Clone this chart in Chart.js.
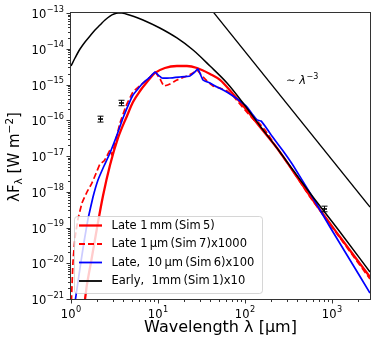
<!DOCTYPE html>
<html><head><meta charset="utf-8">
<script src="https://cdn.jsdelivr.net/npm/chart.js@4.4.0/dist/chart.umd.min.js"></script>
<style>html,body{margin:0;padding:0;background:#fff;}canvas{display:block;}</style>
</head><body>
<canvas id="c" width="374" height="345"></canvas>
<script>
// ---- data (wavelength in micron, lambda*F_lambda in W m^-2) ----
const earlyLambda = [1, 1.112, 1.269, 1.449, 1.653, 1.888, 2.154, 2.46, 2.808, 3.12, 3.47, 3.857, 4.29, 5.30, 6.72, 10.5, 16.5, 25.3, 39.6, 62.1, 94.9, 149, 233, 356, 558, 1236, 2734];
const earlyFlux = [3.29e-15, 5.51e-15, 9.84e-15, 1.55e-14, 2.28e-14, 3.34e-14, 4.62e-14, 6.37e-14, 8.24e-14, 9.38e-14, 1.0e-13, 1.0e-13, 9.38e-14, 7.98e-14, 6.37e-14, 3.80e-14, 2.0e-14, 9.22e-15, 3.29e-15, 1.10e-15, 3.04e-16, 6.9e-17, 1.67e-17, 4.06e-18, 9.23e-19, 7.48e-20, 5.69e-21];

const lateMmLambda = [1.39, 1.45, 1.70, 1.99, 2.33, 2.81, 3.47, 4.40, 5.16, 6.21, 7.47, 9.24, 12.0, 16.5, 21.5, 28.1, 39.6, 51.6, 72.8, 100, 149, 233, 356, 559, 1236, 2734];
const lateMmFlux = [2.5e-22, 1.0e-21, 1.08e-20, 9.68e-20, 7.60e-19, 5.60e-18, 3.19e-17, 1.32e-16, 3.24e-16, 6.57e-16, 1.17e-15, 2.10e-15, 2.90e-15, 3.29e-15, 3.29e-15, 2.90e-15, 1.97e-15, 1.34e-15, 5.42e-16, 2.20e-16, 6.47e-17, 1.67e-17, 3.80e-18, 7.60e-19, 5.42e-20, 4.12e-21];

const lateUmLambda = [1.0, 1.013, 1.054, 1.112, 1.204, 1.338, 1.527, 1.743, 1.99, 2.154, 2.394, 2.593, 2.808, 2.96, 3.205, 3.658, 4.29, 5.16, 6.72, 8.09, 9.24, 10.55, 11.7, 13.7, 16.5, 21.5, 25.3, 28.1, 32.1, 36.6, 42.9, 51.6, 62.1, 72.8, 100, 130, 141, 169.8, 233, 356, 559, 1236, 2734];
const lateUmFlux = [4.9e-22, 1.0e-21, 1.08e-20, 5.08e-20, 1.73e-19, 4.84e-19, 9.84e-19, 1.76e-18, 3.80e-18, 5.97e-18, 7.24e-18, 1.0e-17, 1.47e-17, 1.07e-17, 2.31e-17, 8.38e-17, 2.51e-16, 6.17e-16, 1.10e-15, 1.62e-15, 2.24e-15, 1.43e-15, 9.08e-16, 1.03e-15, 1.34e-15, 1.73e-15, 2.10e-15, 2.55e-15, 1.73e-15, 1.25e-15, 9.08e-16, 7.98e-16, 6.57e-16, 4.77e-16, 1.94e-16, 9.52e-17, 8.93e-17, 5.33e-17, 1.67e-17, 3.80e-18, 7.13e-19, 5.08e-20, 3.62e-21];

const late10Lambda = [1.083, 1.126, 1.269, 1.411, 1.568, 1.790, 2.043, 2.394, 2.808, 3.378, 3.960, 5.16, 6.72, 8.09, 9.24, 10.0, 11.1, 13.7, 17.9, 23.3, 26.6, 28.8, 32.9, 39.6, 47.7, 58.9, 72.8, 87.7, 105.5, 123.6, 137.4, 152.7, 169.8, 204, 273, 356, 559, 948, 1610, 2734];
const late10Flux = [4.9e-22, 1.0e-21, 7.36e-21, 3.93e-20, 1.73e-19, 7.13e-19, 2.13e-18, 5.25e-18, 1.21e-17, 3.86e-17, 1.16e-16, 5.08e-16, 1.10e-15, 1.62e-15, 2.24e-15, 1.85e-15, 1.52e-15, 1.52e-15, 1.62e-15, 1.73e-15, 2.24e-15, 2.72e-15, 1.34e-15, 1.10e-15, 8.51e-16, 6.57e-16, 4.77e-16, 3.45e-16, 2.35e-16, 1.40e-16, 1.02e-16, 9.52e-17, 6.90e-17, 3.60e-17, 1.40e-17, 5.5e-18, 9.23e-19, 1.03e-19, 1.23e-20, 1.47e-21];

const slopeLambda = [40, 2734];
const slopeFlux = [1.34e-13, 3.74e-19];

const obsLambda = [2.15, 3.71, 800];
const obsFlux = [1.08e-16, 3.04e-16, 3.3e-19];
const obsLow = [0.89e-16, 2.55e-16, 2.75e-19];
const obsHigh = [1.30e-16, 3.62e-16, 3.95e-19];

const legendLabels = ['Late 1\u2009mm\u2009(Sim\u20095)', 'Late 1\u2009\u03bcm\u2009(Sim\u20097)x1000', 'Late,  10\u2009\u03bcm\u2009(Sim\u20096)x100', 'Early,  1mm\u2009(Sim\u20091)x10'];
const xTitle = 'Wavelength \u03bb [\u03bcm]';
const slopeText = '\u223c ';

const FONT = "'DejaVu Sans'";
const pts = (xs, ys) => xs.map((x, i) => ({x, y: ys[i]}));
const isPow10 = v => { const e = Math.round(Math.log10(v)); return Math.abs(v / Math.pow(10, e) - 1) < 1e-6; };
const expText = v => String(Math.round(Math.log10(v))).replace('-', '\u2212');

function logTicks(scale) {
  const t = [];
  for (let e = Math.floor(Math.log10(scale.min)) - 1; e <= Math.ceil(Math.log10(scale.max)); e++)
    for (let m = 1; m <= 9; m++) {
      const v = parseFloat(m + 'e' + e);
      if (v >= scale.min * 0.9999 && v <= scale.max * 1.0001) t.push({value: v});
    }
  scale.ticks = t;
}

const extras = {
  id: 'extras',
  afterDatasetsDraw(chart) {
    const ctx = chart.ctx, xs = chart.scales.x, ys = chart.scales.y;
    ctx.save();
    // error bars
    ctx.strokeStyle = '#000';
    for (let i = 0; i < obsLambda.length; i++) {
      const px = Math.round(xs.getPixelForValue(obsLambda[i])) + 0.5;
      const py = ys.getPixelForValue(obsFlux[i]);
      const lo = ys.getPixelForValue(obsLow[i]), hi = ys.getPixelForValue(obsHigh[i]);
      ctx.lineWidth = 1;
      ctx.beginPath();
      ctx.moveTo(px, lo); ctx.lineTo(px, hi);
      ctx.moveTo(px - 3, lo); ctx.lineTo(px + 3, lo);
      ctx.moveTo(px - 3, hi); ctx.lineTo(px + 3, hi);
      ctx.stroke();
      ctx.lineWidth = 1.6;
      ctx.beginPath(); ctx.moveTo(px - 2.5, py); ctx.lineTo(px + 2.5, py); ctx.stroke();
    }
    // slope annotation
    ctx.fillStyle = '#000';
    ctx.textBaseline = 'alphabetic';
    ctx.font = '11.5px ' + FONT;
    let tx = 286, ty = 84;
    ctx.fillText(slopeText, tx, ty); tx += ctx.measureText(slopeText).width;
    ctx.font = 'italic 11.5px ' + FONT;
    ctx.fillText('\u03bb', tx, ty); tx += ctx.measureText('\u03bb').width + 0.5;
    ctx.font = '8px ' + FONT;
    ctx.fillText('\u22123', tx, ty - 5);
    // legend
    const bx = 74.5, by = 216.5, bw = 188, bh = 77, r = 3;
    ctx.beginPath();
    ctx.moveTo(bx + r, by); ctx.lineTo(bx + bw - r, by); ctx.arcTo(bx + bw, by, bx + bw, by + r, r);
    ctx.lineTo(bx + bw, by + bh - r); ctx.arcTo(bx + bw, by + bh, bx + bw - r, by + bh, r);
    ctx.lineTo(bx + r, by + bh); ctx.arcTo(bx, by + bh, bx, by + bh - r, r);
    ctx.lineTo(bx, by + r); ctx.arcTo(bx, by, bx + r, by, r); ctx.closePath();
    ctx.fillStyle = 'rgba(255,255,255,0.8)'; ctx.fill();
    ctx.strokeStyle = 'rgba(204,204,204,0.8)'; ctx.lineWidth = 1; ctx.stroke();
    const rows = [225.5, 244, 262.5, 281];
    const styles = [
      {c: '#ff0000', w: 2.3, d: []}, {c: '#ff0000', w: 1.8, d: [6, 3]},
      {c: '#0000ff', w: 1.8, d: []}, {c: '#000000', w: 1.8, d: []}];
    ctx.font = '11.5px ' + FONT; ctx.textBaseline = 'middle'; ctx.fillStyle = '#000';
    rows.forEach((y, i) => {
      ctx.strokeStyle = styles[i].c; ctx.lineWidth = styles[i].w; ctx.setLineDash(styles[i].d);
      ctx.beginPath(); ctx.moveTo(79, y); ctx.lineTo(102, y); ctx.stroke();
      ctx.setLineDash([]);
      ctx.fillText(legendLabels[i], 111.5, y + 0.5);
    });
    ctx.restore();
  },
  afterDraw(chart) {
    const ctx = chart.ctx, a = chart.chartArea, xs = chart.scales.x, ys = chart.scales.y;
    ctx.save();
    ctx.strokeStyle = '#333'; ctx.lineWidth = 1;
    // spines
    ctx.strokeRect(a.left - 0.5, a.top - 0.5, a.right - a.left + 1, a.bottom - a.top + 1);
    // ticks
    ctx.beginPath();
    xs.ticks.forEach(t => {
      const p = Math.round(xs.getPixelForValue(t.value)) + 0.5, L = isPow10(t.value) ? 4 : 2.5;
      ctx.moveTo(p, a.bottom + 0.5); ctx.lineTo(p, a.bottom + 0.5 + L);
    });
    ys.ticks.forEach(t => {
      const p = Math.round(ys.getPixelForValue(t.value)) + 0.5, L = isPow10(t.value) ? 4 : 2.5;
      ctx.moveTo(a.left - 0.5, p); ctx.lineTo(a.left - 0.5 - L, p);
    });
    ctx.stroke();
    // tick labels (10 with superscript exponent)
    ctx.fillStyle = '#000'; ctx.textBaseline = 'alphabetic'; ctx.textAlign = 'left';
    const mainF = '11.5px ' + FONT, supF = '8.2px ' + FONT;
    const lab = (v, xr, yb, anchor) => {
      const e = expText(v);
      ctx.font = mainF; const w1 = ctx.measureText('10').width;
      ctx.font = supF; const w2 = ctx.measureText(e).width;
      const total = w1 + w2 + 0.5;
      const x0 = anchor === 'center' ? xr - total / 2 : xr - total;
      ctx.font = mainF; ctx.fillText('10', x0, yb);
      ctx.font = supF; ctx.fillText(e, x0 + w1 + 0.5, yb - 6.5);
    };
    xs.ticks.forEach(t => { if (isPow10(t.value)) lab(t.value, xs.getPixelForValue(t.value), 318, 'center'); });
    ys.ticks.forEach(t => { if (isPow10(t.value)) lab(t.value, 64, ys.getPixelForValue(t.value) + 5, 'right'); });
    // x title
    ctx.font = '16px ' + FONT; ctx.textAlign = 'center'; ctx.textBaseline = 'middle';
    ctx.fillText(xTitle, (a.left + a.right) / 2, 328);
    // y title (rotated, with sub/superscripts)
    const parts = [['\u03bbF', 15, 0], ['\u03bb', 10.5, 4], [' [W m', 15, 0], ['\u22122', 10.5, -5], [']', 15, 0]];
    ctx.translate(15, (a.top + a.bottom) / 2 + 1);
    ctx.rotate(-Math.PI / 2);
    ctx.textAlign = 'left';
    let total = 0;
    parts.forEach(p => { ctx.font = p[1] + 'px ' + FONT; total += ctx.measureText(p[0]).width; });
    let x = -total / 2;
    parts.forEach(p => { ctx.font = p[1] + 'px ' + FONT; ctx.fillText(p[0], x, p[2]); x += ctx.measureText(p[0]).width; });
    ctx.restore();
  }
};

new Chart(document.getElementById('c'), {
  type: 'line',
  data: {
    datasets: [
      {label: 'slope', data: pts(slopeLambda, slopeFlux), borderColor: '#000', borderWidth: 1.3, order: 0},
      {label: legendLabels[3], data: pts(earlyLambda, earlyFlux), borderColor: '#000', borderWidth: 1.5, cubicInterpolationMode: 'monotone', order: 1},
      {label: legendLabels[2], data: pts(late10Lambda, late10Flux), borderColor: '#0000ff', borderWidth: 1.7, tension: 0.1, order: 2},
      {label: legendLabels[1], data: pts(lateUmLambda, lateUmFlux), borderColor: '#ff0000', borderWidth: 1.7, borderDash: [6, 3], tension: 0.1, order: 3},
      {label: legendLabels[0], data: pts(lateMmLambda, lateMmFlux), borderColor: '#ff0000', borderWidth: 2.3, cubicInterpolationMode: 'monotone', order: 4}
    ]
  },
  options: {
    responsive: false, animation: false, events: [],
    elements: {point: {radius: 0}, line: {fill: false}},
    datasets: {line: {clip: 0}},
    layout: {padding: {left: 0, top: 13, right: 4, bottom: 0}},
    plugins: {legend: {display: false}, tooltip: {enabled: false}},
    scales: {
      x: {
        type: 'logarithmic', min: 1, max: 2734,
        afterBuildTicks: logTicks,
        afterFit: s => { s.height = 46; },
        grid: {display: false}, border: {display: false},
        ticks: {display: false, autoSkip: false, maxRotation: 0, minRotation: 0}
      },
      y: {
        type: 'logarithmic', min: 1e-21, max: 1e-13,
        afterBuildTicks: logTicks,
        afterFit: s => { s.width = 71; },
        grid: {display: false}, border: {display: false},
        ticks: {display: false, autoSkip: false}
      }
    }
  },
  plugins: [extras]
});
</script>
</body></html>
